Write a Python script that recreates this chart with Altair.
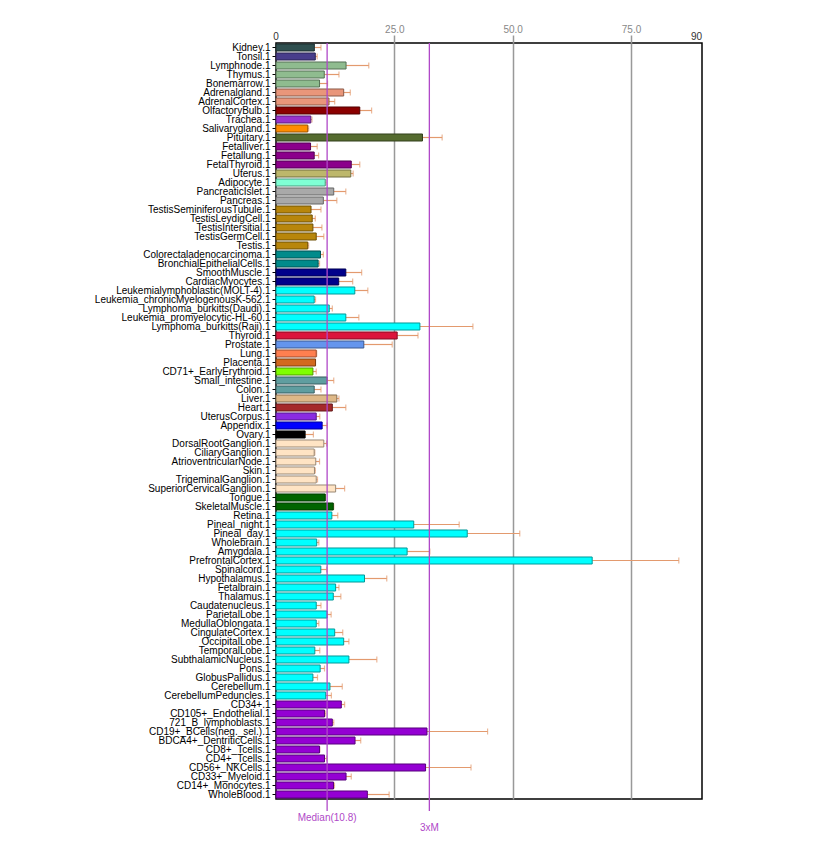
import altair as alt
import pandas as pd

names = ["Kidney.1", "Tonsil.1", "Lymphnode.1", "Thymus.1", "Bonemarrow.1", "Adrenalgland.1",
         "AdrenalCortex.1", "OlfactoryBulb.1", "Trachea.1", "Salivarygland.1", "Pituitary.1",
         "Fetalliver.1", "Fetallung.1", "FetalThyroid.1", "Uterus.1", "Adipocyte.1",
         "PancreaticIslet.1", "Pancreas.1", "TestisSeminiferousTubule.1", "TestisLeydigCell.1",
         "TestisIntersitial.1", "TestisGermCell.1", "Testis.1", "Colorectaladenocarcinoma.1",
         "BronchialEpithelialCells.1", "SmoothMuscle.1", "CardiacMyocytes.1",
         "Leukemialymphoblastic(MOLT-4).1", "Leukemia_chronicMyelogenousK-562.1",
         "Lymphoma_burkitts(Daudi).1", "Leukemia_promyelocytic-HL-60.1",
         "Lymphoma_burkitts(Raji).1", "Thyroid.1", "Prostate.1", "Lung.1", "Placenta.1",
         "CD71+_EarlyErythroid.1", "Small_intestine.1", "Colon.1", "Liver.1", "Heart.1",
         "UterusCorpus.1", "Appendix.1", "Ovary.1", "DorsalRootGanglion.1", "CiliaryGanglion.1",
         "AtrioventricularNode.1", "Skin.1", "TrigeminalGanglion.1", "SuperiorCervicalGanglion.1",
         "Tongue.1", "SkeletalMuscle.1", "Retina.1", "Pineal_night.1", "Pineal_day.1",
         "Wholebrain.1", "Amygdala.1", "PrefrontalCortex.1", "Spinalcord.1", "Hypothalamus.1",
         "Fetalbrain.1", "Thalamus.1", "Caudatenucleus.1", "ParietalLobe.1",
         "MedullaOblongata.1", "CingulateCortex.1", "OccipitalLobe.1", "TemporalLobe.1",
         "SubthalamicNucleus.1", "Pons.1", "GlobusPallidus.1", "Cerebellum.1",
         "CerebellumPeduncles.1", "CD34+.1", "CD105+_Endothelial.1", "721_B_lymphoblasts.1",
         "CD19+_BCells(neg._sel.).1", "BDCA4+_DentriticCells.1", "CD8+_Tcells.1",
         "CD4+_Tcells.1", "CD56+_NKCells.1", "CD33+_Myeloid.1", "CD14+_Monocytes.1",
         "WholeBlood.1"]

values = [8.1, 8.3, 14.8, 10.2, 9.2, 14.3, 11.2, 17.7, 7.35, 6.7, 30.95,
          7.3, 8.07, 15.9, 15.8, 10.4, 12.2, 10.0, 7.4, 7.65, 7.8, 8.5, 6.7, 9.4,
          8.9, 14.75, 13.25, 16.65, 8.07, 11.25, 14.75, 30.4, 25.6, 18.55, 8.5, 8.35,
          7.8, 10.8, 8.07, 12.85, 11.9, 8.5, 9.75, 6.15, 10.1, 8.07, 8.4, 8.13, 8.5, 12.6,
          10.4, 12.1, 11.8, 29.1, 40.4, 8.6, 27.7, 66.8, 9.47, 18.7, 12.6, 12.1, 8.5, 10.8,
          8.5, 12.4, 14.3, 8.2, 15.4, 9.33, 7.8, 11.4, 10.5, 13.8, 10.25, 11.9, 31.9, 16.7,
          9.2, 10.25, 31.6, 14.8, 12.15, 19.3]

upper = [9.5, 8.7, 19.6, 13.3, 10.9, 15.7, 12.4, 20.2, 7.6, 6.9, 35.1,
         8.7, 9.0, 17.7, 16.3, 10.6, 14.75, 12.85, 9.5, 8.3, 9.7, 10.1, 6.9, 10.0,
         9.2, 18.1, 16.2, 19.4, 8.35, 11.9, 17.5, 41.6, 30.0, 24.55, 8.6, 8.35,
         8.5, 12.2, 9.5, 13.3, 14.75, 9.25, 10.8, 7.9, 10.7, 8.2, 9.2, 8.3, 8.77, 14.5,
         10.4, 12.2, 13.05, 38.7, 51.5, 9.05, 32.5, 85.1, 10.7, 23.4, 13.3, 13.7, 9.5, 11.65,
         9.05, 14.1, 15.4, 9.25, 21.3, 10.25, 8.77, 14.0, 11.7, 14.5, 10.5, 12.2, 44.7, 17.9,
         9.25, 10.7, 41.2, 15.9, 12.35, 23.9]

colors = ["#2F4F4F", "#483D8B", "#8FBC8F", "#8FBC8F", "#8FBC8F", "#E9967A",
          "#E9967A", "#8B0000", "#9932CC", "#FF8C00", "#556B2F",
          "#8B008B", "#8B008B", "#8B008B", "#BDB76B", "#7FFFD4",
          "#A9A9A9", "#A9A9A9", "#B8860B", "#B8860B",
          "#B8860B", "#B8860B", "#B8860B", "#008B8B",
          "#008B8B", "#00008B", "#00008B",
          "#00FFFF", "#00FFFF", "#00FFFF", "#00FFFF",
          "#00FFFF", "#DC143C", "#6495ED", "#FF7F50", "#D2691E",
          "#7FFF00", "#5F9EA0", "#5F9EA0", "#DEB887", "#A52A2A",
          "#8A2BE2", "#0000FF", "#000000", "#FFE4C4", "#FFE4C4",
          "#FFE4C4", "#FFE4C4", "#FFE4C4", "#FFE4C4",
          "#006400", "#006400", "#00FFFF", "#00FFFF", "#00FFFF",
          "#00FFFF", "#00FFFF", "#00FFFF", "#00FFFF", "#00FFFF",
          "#00FFFF", "#00FFFF", "#00FFFF", "#00FFFF",
          "#00FFFF", "#00FFFF", "#00FFFF", "#00FFFF",
          "#00FFFF", "#00FFFF", "#00FFFF", "#00FFFF",
          "#00FFFF", "#9400D3", "#9400D3", "#9400D3",
          "#9400D3", "#9400D3", "#9400D3",
          "#9400D3", "#9400D3", "#9400D3", "#9400D3",
          "#9400D3"]

median = 10.8


def darker(hexc, f=0.6):
    r, g, b = int(hexc[1:3], 16), int(hexc[3:5], 16), int(hexc[5:7], 16)
    return "#%02x%02x%02x" % (int(r * f), int(g * f), int(b * f))


strokes = [darker(c) for c in colors]

df = pd.DataFrame({"name": names, "value": values, "upper": upper,
                   "fill": colors, "stroke": strokes})

W, H = 426, 756
purple = "#b048c8"
errc = "#e39a6e"

yenc = alt.Y("name:N", sort=names, title=None,
             scale=alt.Scale(paddingInner=0.22, paddingOuter=0.11),
             axis=alt.Axis(labelFontSize=10, labelColor="black", tickColor="black",
                           tickSize=4, labelPadding=2, domain=False,
                           labelFont="Liberation Sans"))
xscale = alt.Scale(domain=[0, 90], nice=False, zero=True)
xaxis = alt.Axis(orient="top", values=[25, 50, 75], format=".1f", title=None,
                 labelColor="#888888", tickColor="#999999", tickSize=8, tickWidth=1.5,
                 grid=True, gridColor="#999999", gridWidth=1.5, domain=False,
                 labelFontSize=10, labelFont="Liberation Sans", labelPadding=1)

base = alt.Chart(df)

err = base.mark_rule(color=errc, strokeWidth=1.2).encode(
    x=alt.X("value:Q", scale=xscale, axis=xaxis), x2="upper:Q", y=yenc)

caps = base.mark_tick(color=errc, orient="vertical", size=6, thickness=1.2).encode(
    x=alt.X("upper:Q", scale=xscale), y=yenc)

bars = base.mark_bar(strokeWidth=1).encode(
    x=alt.X("value:Q", scale=xscale), y=yenc,
    fill=alt.Fill("fill:N", scale=None), stroke=alt.Stroke("stroke:N", scale=None))

lines_df = pd.DataFrame({"v": [median, 3 * median]})
vlines = alt.Chart(lines_df).mark_rule(color=purple, strokeWidth=1.3).encode(
    x=alt.X("v:Q", scale=xscale), y=alt.value(0), y2=alt.value(H + 12))

lab_med = alt.Chart(pd.DataFrame({"t": ["Median(10.8)"]})).mark_text(
    color=purple, fontSize=10, font="Liberation Sans", baseline="middle").encode(
    x=alt.datum(median), y=alt.value(H + 19), text="t:N")
lab_3 = alt.Chart(pd.DataFrame({"t": ["3xM"]})).mark_text(
    color=purple, fontSize=10, font="Liberation Sans", baseline="middle").encode(
    x=alt.datum(3 * median), y=alt.value(H + 29), text="t:N")

ends_df = pd.DataFrame({"v": [0, 90], "t": ["0", "90"]})
lab0 = alt.Chart(ends_df.iloc[[0]]).mark_text(
    color="#333333", fontSize=10, font="Liberation Sans", baseline="bottom", align="center").encode(
    x=alt.X("v:Q", scale=xscale), y=alt.value(-1), text="t:N")
lab90 = alt.Chart(ends_df.iloc[[1]]).mark_text(
    color="#333333", fontSize=10, font="Liberation Sans", baseline="bottom", align="right").encode(
    x=alt.X("v:Q", scale=xscale), y=alt.value(-1), text="t:N")

chart = alt.layer(err, caps, bars, vlines, lab_med, lab_3, lab0, lab90).properties(
    width=W, height=H, padding={"left": 86, "top": 16, "right": 5, "bottom": 5},
    background="white"
).configure_view(stroke="black", strokeWidth=1.5)

chart.save("out.html", embed_options={"renderer": "svg", "actions": False})
